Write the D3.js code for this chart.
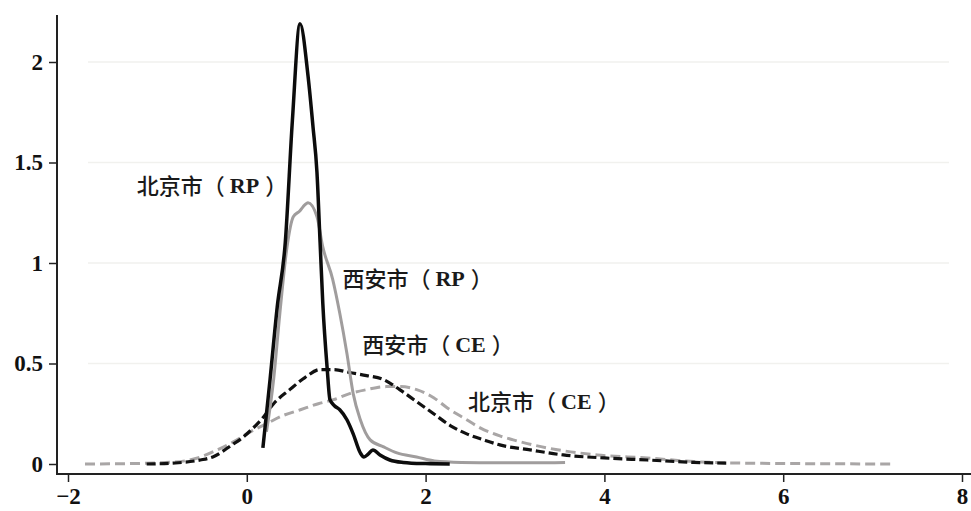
<!DOCTYPE html>
<html><head><meta charset="utf-8">
<script src="https://cdn.jsdelivr.net/npm/d3@7"></script>
<style>
html,body{margin:0;padding:0;background:#fff;}
svg{display:block;}
</style></head>
<body>
<svg id="chart" width="971" height="511"></svg>
<script>
// ---- data ----
const xTicks = [-2, 0, 2, 4, 6, 8];
const yTicks = [0, 0.5, 1, 1.5, 2];
const gridValues = [0.5, 1, 1.5, 2];

// 北京市（RP） – black solid
const beijingRP = [
  [0.18,0.08],[0.26,0.42],[0.34,0.78],[0.43,1.10],[0.51,1.71],[0.595,2.19],
  [0.685,1.93],[0.74,1.68],[0.785,1.45],[0.82,1.10],[0.85,0.80],[0.90,0.47],[0.93,0.32],
  [0.98,0.29],[1.04,0.27],[1.12,0.22],[1.19,0.15],[1.27,0.055],[1.31,0.035],
  [1.36,0.05],[1.41,0.07],[1.49,0.045],[1.60,0.02],[1.75,0.008],[2.0,0.002],[2.27,0.0]
];
// 西安市（RP） – grey solid
const xianRP = [
  [0.22,0.16],[0.30,0.42],[0.37,0.75],[0.45,1.08],[0.52,1.23],[0.595,1.26],
  [0.63,1.28],[0.685,1.30],[0.785,1.23],[0.85,1.08],[0.96,0.92],[1.04,0.75],
  [1.12,0.55],[1.19,0.35],[1.27,0.22],[1.38,0.12],[1.53,0.085],[1.68,0.055],
  [1.90,0.035],[2.10,0.015],[2.40,0.008],[2.8,0.006],[3.2,0.006],[3.56,0.008]
];
// 西安市（CE） – black dashed
const xianCE = [
  [-1.12,0.0],[-0.8,0.005],[-0.52,0.02],[-0.38,0.035],[-0.15,0.10],[-0.08,0.12],
  [0.05,0.17],[0.18,0.23],[0.30,0.30],[0.48,0.37],[0.65,0.43],[0.82,0.47],
  [0.97,0.47],[1.15,0.455],[1.34,0.44],[1.53,0.42],[1.71,0.37],[1.90,0.31],
  [2.09,0.25],[2.28,0.19],[2.46,0.15],[2.65,0.12],[2.83,0.095],[3.17,0.07],
  [3.54,0.045],[4.0,0.03],[4.48,0.02],[5.0,0.008],[5.37,0.004]
];
// 北京市（CE） – grey dashed
const beijingCE = [
  [-1.81,0.0],[-1.2,0.003],[-0.8,0.01],[-0.55,0.03],[-0.33,0.07],[-0.15,0.11],
  [0.04,0.16],[0.22,0.20],[0.40,0.24],[0.60,0.27],[0.80,0.30],[0.97,0.32],
  [1.15,0.35],[1.34,0.37],[1.56,0.385],[1.71,0.385],[1.90,0.37],[2.09,0.33],
  [2.24,0.28],[2.46,0.22],[2.61,0.18],[2.83,0.14],[2.98,0.12],[3.36,0.08],
  [3.92,0.045],[4.48,0.03],[5.0,0.012],[5.44,0.005],[6.2,0.002],[7.23,0.0]
];

const labels = [
  {city:"北京市", code:"RP", x:-1.23, y:1.375},
  {city:"西安市", code:"RP", x:1.07, y:0.91},
  {city:"西安市", code:"CE", x:1.29, y:0.58},
  {city:"北京市", code:"CE", x:2.475, y:0.30}
];

// ---- layout ----
const svg = d3.select("#chart");
const x = d3.scaleLinear().domain([-2, 8]).range([68, 962]);
const y = d3.scaleLinear().domain([0, 2]).range([464, 62]);
const axisY0 = 474, axisX0 = 57;
const serif = "'Liberation Serif','DejaVu Serif',serif";
const cjk = "'Noto Sans CJK SC','Noto Sans CJK JP',sans-serif";

// gridlines
svg.append("g").selectAll("line").data(gridValues).join("line")
  .attr("x1", 88).attr("x2", 949)
  .attr("y1", d => y(d)).attr("y2", d => y(d))
  .attr("stroke", "#f1f1ee").attr("stroke-width", 1.5);

// x axis
const xAxis = svg.append("g").attr("transform", `translate(0,${axisY0})`)
  .call(d3.axisBottom(x).tickValues(xTicks).tickSize(8).tickPadding(6)
        .tickFormat(d => d < 0 ? "\u2212" + Math.abs(d) : d));
xAxis.select(".domain").remove();
xAxis.append("line").attr("x1", axisX0).attr("x2", 971).attr("stroke", "#222").attr("stroke-width", 2);
xAxis.selectAll(".tick line").attr("stroke", "#222").attr("stroke-width", 1.5);
xAxis.selectAll(".tick text").attr("fill", "#111").attr("font-size", 23)
  .attr("font-family", serif).attr("font-weight", "bold");

// y axis
const yAxis = svg.append("g").attr("transform", `translate(${axisX0},0)`)
  .call(d3.axisLeft(y).tickValues(yTicks).tickSize(8).tickPadding(6)
        .tickFormat(d3.format("")));
yAxis.select(".domain").remove();
yAxis.append("line").attr("y1", 15).attr("y2", axisY0 + 1).attr("stroke", "#222").attr("stroke-width", 2);
yAxis.selectAll(".tick line").attr("stroke", "#222").attr("stroke-width", 1.5);
yAxis.selectAll(".tick text").attr("fill", "#111").attr("font-size", 23)
  .attr("font-family", serif).attr("font-weight", "bold");

// curves
const line = d3.line().x(d => x(d[0])).y(d => y(d[1])).curve(d3.curveMonotoneX);
const series = [
  {data: beijingCE, color:"#a9a6a6", width:3, dash:"10,5"},
  {data: xianCE, color:"#111", width:3.2, dash:"9,4"},
  {data: xianRP, color:"#a09d9d", width:3, dash:null},
  {data: beijingRP, color:"#0c0c0c", width:3.5, dash:null}
];
svg.append("g").selectAll("path").data(series).join("path")
  .attr("d", d => line(d.data))
  .attr("fill", "none")
  .attr("stroke", d => d.color)
  .attr("stroke-width", d => d.width)
  .attr("stroke-dasharray", d => d.dash)
  .attr("stroke-linejoin", "round");

// labels
const t = svg.append("g").selectAll("text").data(labels).join("text")
  .attr("x", d => x(d.x)).attr("y", d => y(d.y))
  .attr("dominant-baseline", "middle")
  .attr("font-size", 22)
  .attr("fill", "#1a1a1a");
t.append("tspan").attr("font-family", cjk).attr("font-weight", 500).text(d => d.city + "（");
t.append("tspan").attr("font-family", serif).attr("font-weight", "bold").attr("dx", 5).text(d => d.code);
t.append("tspan").attr("font-family", cjk).attr("font-weight", 500).attr("dx", 6).text("）");
</script>
</body></html>
